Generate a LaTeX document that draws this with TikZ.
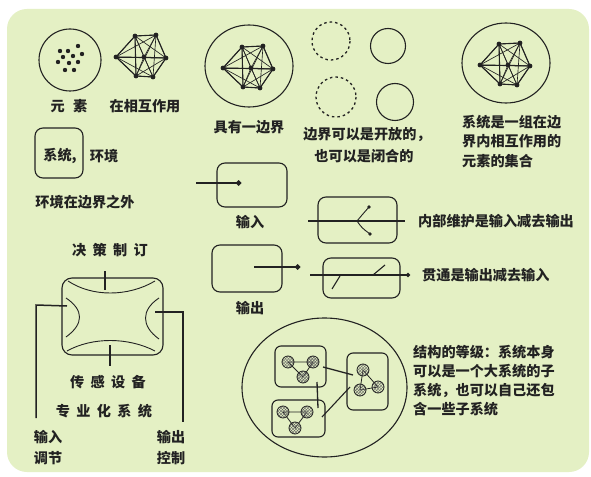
\documentclass[tikz,border=0pt]{standalone}
\usepackage{fontspec}
\newfontfamily\cjk{Noto Sans CJK SC}
\usetikzlibrary{patterns,arrows.meta}
\definecolor{bg}{RGB}{228,240,196}
\definecolor{ink}{RGB}{34,34,34}
\tikzset{
  lbl/.style={font=\cjk\bfseries\fontsize{14.2}{16}\selectfont, text=ink, inner sep=0pt},
  rbox/.style={draw=ink, line width=1.1bp, rounded corners=8bp, inner sep=0pt},
  ln/.style={draw=ink, line width=1.1bp},
  thinl/.style={draw=ink, line width=0.65bp},
  fatarr/.style={draw=ink, line width=2.4bp, -{Circle[length=5bp]}},
  midarr/.style={draw=ink, line width=1.6bp},
  dot/.style={fill=ink},
  subc/.style={draw=ink, line width=0.8bp, pattern=crosshatch, pattern color=ink!70},
}
\newcommand\netw[2]{%
\begin{scope}[shift={#1}]
\coordinate (#2-1) at (-27,0);
\coordinate (#2-2) at (-8,-21);
\coordinate (#2-3) at (13,-22);
\coordinate (#2-4) at (23,1);
\coordinate (#2-5) at (10,20);
\coordinate (#2-6) at (-7,19);
\coordinate (#2-7) at (1,0);
\foreach \i in {1,...,7}{\foreach \j in {1,...,7}{\ifnum\i<\j \draw[thinl] (#2-\i)--(#2-\j);\fi}}
\draw[ln] (#2-1)--(#2-2)--(#2-3)--(#2-4)--(#2-5)--(#2-6)--cycle (#2-2)--(#2-6) (#2-1)--(#2-4);
\foreach \i in {1,...,7} \fill[dot] (#2-\i) circle (2.4);
\end{scope}}
\begin{document}
\begin{tikzpicture}[x=1bp,y=-1bp]
\useasboundingbox (0,0) rectangle (591,477);
\fill[white] (0,0) rectangle (591,477);
\fill[bg, rounded corners=20bp] (7,9) rectangle (589,472);

% elements
\draw[ln] (70,60) circle (31);
\foreach \p in {(60,51),(68,51),(78,46),(63,57),(73,56),(82,54),(69,63),(78,62),(65,70),(74,70),(58,62)} \fill[dot] \p circle (2.2);
\node[lbl] (yuansu) at (69,106) {元\hspace{0.6em}素};

% interacting
\netw{(143,57)}{na}
\node[lbl] (xianghu) at (145,106) {在相互作用};

% boundary
\draw[ln] (249,66) ellipse (44 and 41);
\netw{(250,68)}{nb}
\node[lbl] (bianjie) at (249,127) {具有一边界};

% open/closed
\draw[ln, line width=1.3bp, dash pattern=on 2.5bp off 3bp] (331,41) circle (19);
\draw[ln] (388,46) circle (17.5);
\draw[ln, line width=1.3bp, dash pattern=on 2.5bp off 3bp] (336,97) circle (20);
\draw[ln] (395,102) circle (18.5);
\node[lbl] (kaifang) at (367,135) {边界可以是开放的，};
\node[lbl] (bihe) at (364,156) {也可以是闭合的};

% system definition
\draw[ln] (506,63) ellipse (44 and 40);
\netw{(507,65)}{nc}
\node[lbl, anchor=west] (def1) at (462,122) {系统是一组在边};
\node[lbl, anchor=west] (def2) at (462,141) {界内相互作用的};
\node[lbl, anchor=west] (def3) at (462,161) {元素的集合};

% system / environment
\node[rbox, minimum width=48bp, minimum height=50bp] (sysbox) at (59,153) {};
\node[lbl] (xitong) at (60,156) {系统,};
\node[lbl] (huanjing) at (104,156) {环境};
\node[lbl] (huanjing2) at (85,202) {环境在边界之外};

% input
\node[rbox, minimum width=70bp, minimum height=44bp] (inbox) at (252,185) {};
\coordinate (inS) at (196,183);
\coordinate (inE) at (241,183);
\draw[fatarr] (inS) -- (inE);
\node[lbl] (shuru) at (250,222) {输入};

% output
\node[rbox, minimum width=70bp, minimum height=47bp] (outbox) at (247,268.5) {};
\coordinate (outS) at (254,267);
\coordinate (outE) at (300,267);
\draw[fatarr] (outS) -- (outE);
\node[lbl] (shuchu) at (250,308) {输出};

% maintenance
\node[rbox, minimum width=79bp, minimum height=46bp] (mbox) at (357.5,220) {};
\coordinate (mS) at (308,221);
\coordinate (mE) at (405,221);
\coordinate (mB) at (357,221);
\coordinate (mU) at (369,207);
\coordinate (mD) at (370,234);
\draw[midarr] (mS) -- (mE);
\draw[ln, line width=0.9bp] (mB) .. controls (362,215) .. (mU);
\draw[ln, line width=0.9bp] (mB) .. controls (362,228) .. (mD);
\fill[dot] (mU) circle (1.8) (mD) circle (1.8);
\node[lbl, anchor=west] (weihu) at (418,221) {内部维护是输入减去输出};

% throughput
\node[rbox, minimum width=77bp, minimum height=40bp] (tbox) at (361.5,278) {};
\coordinate (tS) at (310,275);
\coordinate (tE) at (410,275);
\draw[midarr, -{Circle[length=4bp]}] (tS) -- (tE);
\coordinate (s1a) at (332,289);
\coordinate (s1b) at (340,276);
\coordinate (s2a) at (373,275);
\coordinate (s2b) at (385,265);
\draw[ln] (s1a) -- (s1b) (s2a) -- (s2b);
\node[lbl, anchor=west] (guantong) at (422,275) {贯通是输出减去输入};

% decision
\node[lbl] (juece) at (110,250) {决\hspace{0.45em}策\hspace{0.45em}制\hspace{0.45em}订};
\node[rbox, minimum width=101bp, minimum height=77bp, rounded corners=10bp] (dbox) at (112.5,316.5) {};
\draw[ln, line width=0.9bp] (68,281) .. controls (92,297) and (128,297) .. (155,281);
\draw[ln, line width=0.9bp] (66,298) .. controls (84,310) and (84,324) .. (66,337);
\draw[ln, line width=0.9bp] (159,298) .. controls (141,310) and (141,326) .. (159,339);
\draw[ln, line width=0.9bp] (67,351) .. controls (92,337) and (128,337) .. (155,351);
\coordinate (dT1) at (105,271);
\coordinate (dT2) at (105,290);
\coordinate (dB1) at (110,345);
\coordinate (dB2) at (110,366);
\draw[ln, line width=1.6bp] (dT1) -- (dT2);
\draw[ln, line width=1.6bp] (dB1) -- (dB2);
\coordinate (lA) at (36,418);
\coordinate (lB) at (36,305);
\coordinate (lC) at (67,306);
\draw[ln, line width=1.5bp] (lA) -- (lB) -- (lC);
\coordinate (rA) at (155,312);
\coordinate (rB) at (183,312);
\coordinate (rC) at (183,422);
\draw[ln, line width=1.5bp] (rA) -- (rB) -- (rC);
\node[lbl] (chuangan) at (108,382) {传\hspace{0.45em}感\hspace{0.45em}设\hspace{0.45em}备};
\node[lbl] (zhuanye) at (104,411) {专\hspace{0.45em}业\hspace{0.45em}化\hspace{0.45em}系\hspace{0.45em}统};
\node[lbl] (shuru2) at (48,437) {输入};
\node[lbl] (tiaojie) at (48,458) {调节};
\node[lbl] (shuchu2) at (171,437) {输出};
\node[lbl] (kongzhi) at (171,458) {控制};

% hierarchy
\draw[ln] (324.5,387.5) ellipse (82.5 and 69.5);
\node[rbox, minimum width=51bp, minimum height=41bp, rounded corners=6bp] (boxA) at (300.5,366.5) {};
\node[rbox, minimum width=53bp, minimum height=37bp, rounded corners=6bp] (boxB) at (298.5,418.5) {};
\node[rbox, minimum width=41bp, minimum height=57bp, rounded corners=6bp] (boxC) at (367.5,381.5) {};
\draw[ln, line width=0.8bp] (288,362) -- (313,362) -- (303,377) -- cycle;
\draw[ln, line width=0.8bp] (283,412) -- (307,412) -- (295,428) -- cycle;
\draw[ln, line width=0.8bp] (363,370) -- (360,390) -- (378,387) -- cycle;
\foreach \p in {(288,362),(313,362),(303,377),(283,412),(307,412),(295,428),(363,370),(360,390),(378,387)}
  \path[subc] \p circle (6);
\coordinate (hA1) at (323,367);
\coordinate (hC1) at (353,375);
\coordinate (hA2) at (317,382);
\coordinate (hB1) at (318,408);
\coordinate (hB2) at (322,417);
\coordinate (hC2) at (350,387);
\draw[ln, line width=1.3bp] (hA1) -- (hC1);
\draw[ln, line width=1.3bp] (hA2) -- (hB1);
\draw[ln, line width=1.1bp] (hB2) -- (hC2);
\node[lbl, anchor=west] (jg1) at (413,352) {结构的等级：系统本身};
\node[lbl, anchor=west] (jg2) at (413,371) {可以是一个大系统的子};
\node[lbl, anchor=west] (jg3) at (413,390) {系统，也可以自己还包};
\node[lbl, anchor=west] (jg4) at (413,409) {含一些子系统};
\end{tikzpicture}
\end{document}
